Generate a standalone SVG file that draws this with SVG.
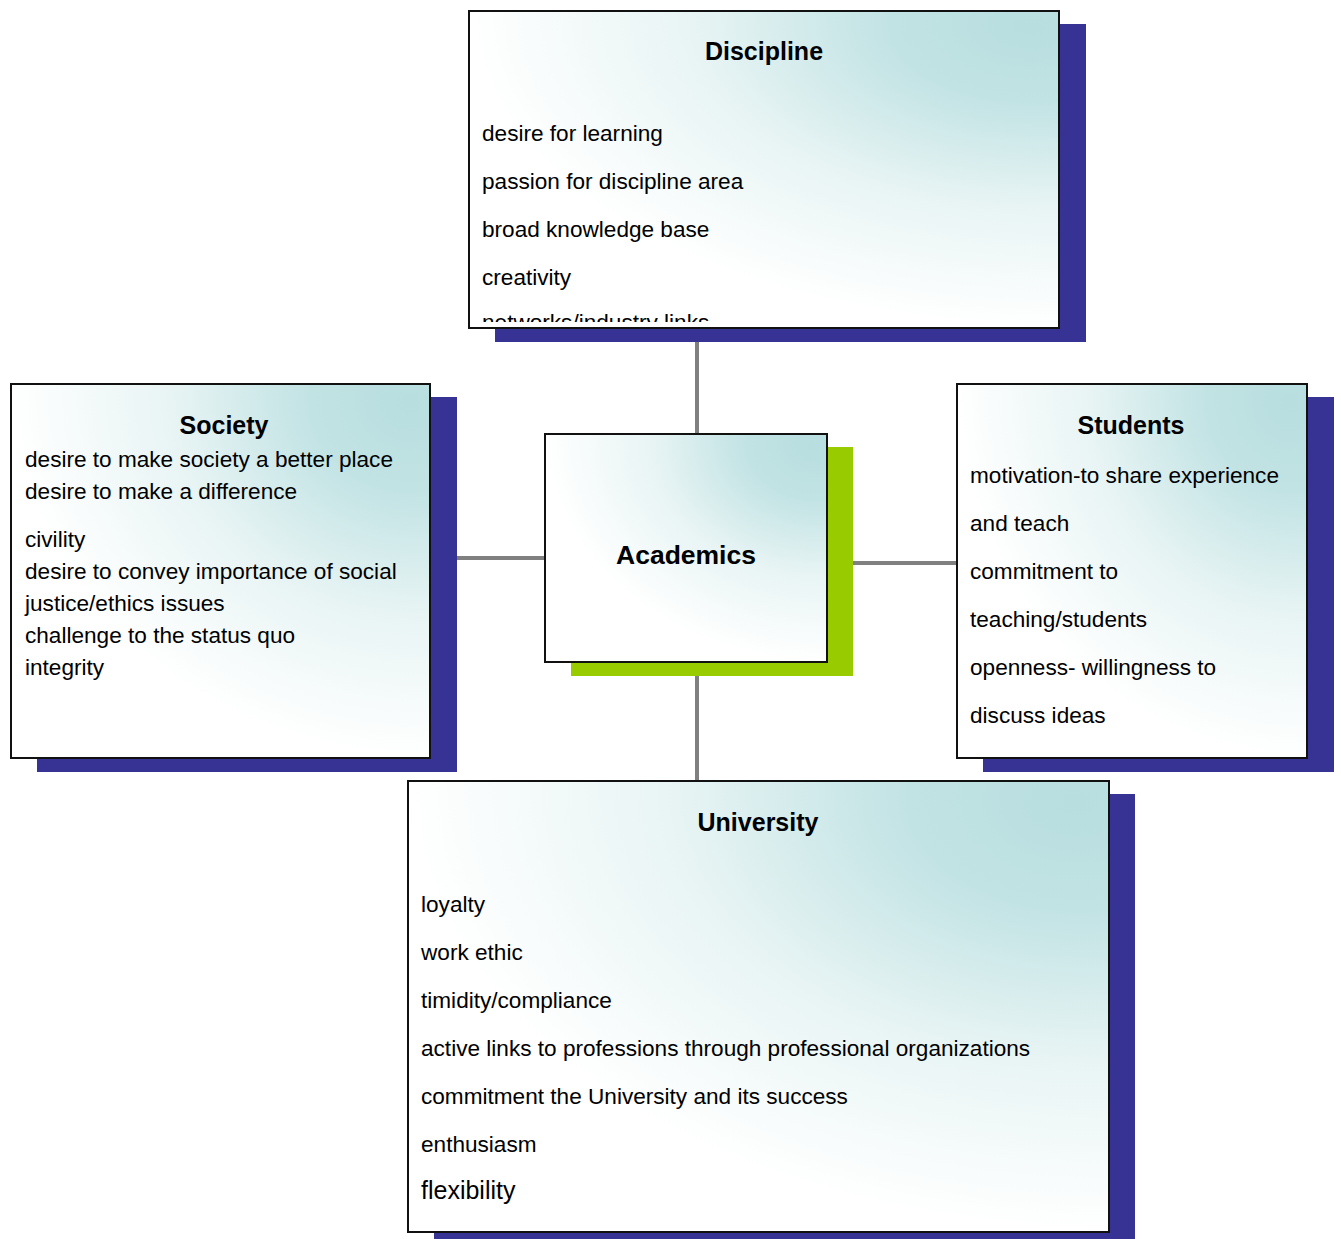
<svg xmlns="http://www.w3.org/2000/svg" width="1341" height="1239" viewBox="0 0 1341 1239">
<defs>
<radialGradient id="g" cx="1" cy="0" r="1" fx="0.95" fy="0.05">
<stop offset="0" stop-color="#b8dedf"/>
<stop offset="0.25" stop-color="#c2e3e4"/>
<stop offset="0.6" stop-color="#e8f4f4"/>
<stop offset="1" stop-color="#ffffff"/>
</radialGradient>
<clipPath id="clipD"><rect x="470" y="12" width="588" height="310"/></clipPath>
<style>
.box{fill:url(#g);stroke:#111;stroke-width:2}
.sh{fill:#363394}
.shg{fill:#99cc00}
.t{font-family:"Liberation Sans",Arial,sans-serif;font-size:25px;font-weight:bold;fill:#000;text-anchor:middle}
.b{font-family:"Liberation Sans",Arial,sans-serif;font-size:22.6px;fill:#000}
.c{stroke:#808080;stroke-width:4;fill:none}
</style>
</defs>
<rect width="1341" height="1239" fill="#fff"/>
<g id="connectors">
<line class="c" x1="697" y1="341" x2="697" y2="434"/>
<line class="c" x1="697" y1="675" x2="697" y2="781"/>
<line class="c" x1="456" y1="558" x2="545" y2="558"/>
<line class="c" x1="853" y1="563" x2="957" y2="563"/>
</g>
<g id="discipline">
<rect class="sh" x="495" y="24" width="591" height="318"/>
<rect class="box" x="469" y="11" width="590" height="317"/>
<text class="t" x="764" y="60">Discipline</text>
<g clip-path="url(#clipD)">
<text class="b" x="482" y="141">desire for learning</text>
<text class="b" x="482" y="189">passion for discipline area</text>
<text class="b" x="482" y="237">broad knowledge base</text>
<text class="b" x="482" y="285">creativity</text>
<text class="b" x="482" y="330">networks/industry links</text>
</g>
</g>
<g id="society">
<rect class="sh" x="37" y="397" width="420" height="375"/>
<rect class="box" x="11" y="384" width="419" height="374"/>
<text class="t" x="224" y="434">Society</text>
<text class="b" x="25" y="467">desire to make society a better place</text>
<text class="b" x="25" y="499">desire to make a difference</text>
<text class="b" x="25" y="547">civility</text>
<text class="b" x="25" y="579">desire to convey importance of social</text>
<text class="b" x="25" y="611">justice/ethics issues</text>
<text class="b" x="25" y="643">challenge to the status quo</text>
<text class="b" x="25" y="675">integrity</text>
</g>
<g id="academics">
<rect class="shg" x="571" y="447" width="282" height="229"/>
<rect class="box" x="545" y="434" width="282" height="228"/>
<text class="t" x="686" y="564" style="font-size:26.5px">Academics</text>
</g>
<g id="students">
<rect class="sh" x="983" y="397" width="351" height="375"/>
<rect class="box" x="957" y="384" width="350" height="374"/>
<text class="t" x="1131" y="434">Students</text>
<text class="b" x="970" y="483">motivation-to share experience</text>
<text class="b" x="970" y="531">and teach</text>
<text class="b" x="970" y="579">commitment to</text>
<text class="b" x="970" y="627">teaching/students</text>
<text class="b" x="970" y="675">openness- willingness to</text>
<text class="b" x="970" y="723">discuss ideas</text>
</g>
<g id="university">
<rect class="sh" x="434" y="794" width="701" height="445"/>
<rect class="box" x="408" y="781" width="701" height="451"/>
<text class="t" x="758" y="831">University</text>
<text class="b" x="421" y="912">loyalty</text>
<text class="b" x="421" y="960">work ethic</text>
<text class="b" x="421" y="1008">timidity/compliance</text>
<text class="b" x="421" y="1056">active links to professions through professional organizations</text>
<text class="b" x="421" y="1104">commitment the University and its success</text>
<text class="b" x="421" y="1152">enthusiasm</text>
<text class="b" x="421" y="1199" style="font-size:25px">flexibility</text>
</g>
</svg>
